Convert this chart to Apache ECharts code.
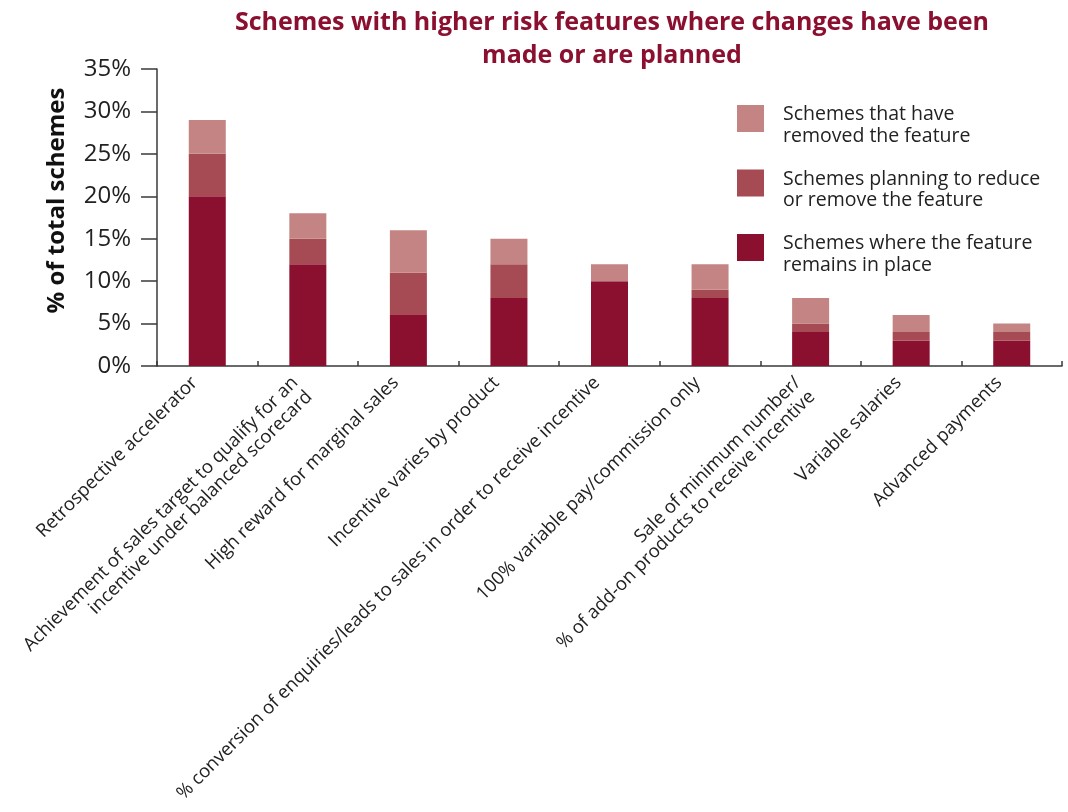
<!DOCTYPE html>
<html>
<head>
<meta charset="utf-8">
<script src="https://cdn.jsdelivr.net/npm/echarts@6/dist/echarts.min.js"></script>
<style>
  html, body { margin: 0; padding: 0; background: #ffffff; }
  #chart { width: 1068px; height: 812px; }
</style>
</head>
<body>
<div id="chart"></div>
<script>
// Risk features (x-axis categories)
const categories = [
  'Retrospective accelerator',
  'Achievement of sales target to qualify for an\nincentive under balanced scorecard',
  'High reward for marginal sales',
  'Incentive varies by product',
  '% conversion of enquiries/leads to sales in order to receive incentive',
  '100% variable pay/commission only',
  'Sale of minimum number/\n% of add-on products to receive incentive',
  'Variable salaries',
  'Advanced payments'
];

// Share of schemes (%) for each stacked segment
const remainsInPlace = [20, 12, 6, 8, 10, 8, 4, 3, 3];
const planningToReduce = [5, 3, 5, 4, 0, 1, 1, 1, 1];
const haveRemoved = [4, 3, 5, 3, 2, 3, 3, 2, 1];

const seriesNames = [
  'Schemes where the feature\nremains in place',
  'Schemes planning to reduce\nor remove the feature',
  'Schemes that have\nremoved the feature'
];

const FONT = '"Open Sans", "Noto Sans", sans-serif';
const colors = ['#8b1030', '#a64a54', '#c48483'];

// Legend swatch: a 27x27 square sitting at the top of a 27x41 box, so the
// two-line legend text centres a little below the square's middle.
const SWATCH = 'path://M0,0H27V27H0Z M0,41H0.01V41.01H0Z';

const chart = echarts.init(document.getElementById('chart'), null, { renderer: 'canvas' });

function barSeries(name, data, color) {
  return {
    name: name,
    type: 'bar',
    stack: 'total',
    barWidth: 37,
    data: data,
    itemStyle: { color: color },
    emphasis: { disabled: true }
  };
}

chart.setOption({
  animation: false,
  backgroundColor: '#ffffff',
  textStyle: { fontFamily: FONT },
  title: {
    text: 'Schemes with higher risk features where changes have been\nmade or are planned',
    left: 607,
    top: 1,
    textAlign: 'center',
    textStyle: {
      fontFamily: FONT,
      fontSize: 25,
      fontWeight: 'bold',
      color: '#8b1030',
      lineHeight: 33
    }
  },
  legend: {
    orient: 'vertical',
    left: 737,
    top: 104,
    padding: 0,
    itemWidth: 27,
    itemHeight: 41,
    itemGap: 21.5,
    icon: SWATCH,
    selectedMode: false,
    data: [seriesNames[2], seriesNames[1], seriesNames[0]],
    textStyle: {
      fontFamily: FONT,
      fontSize: 19.5,
      lineHeight: 21.5,
      color: '#222222',
      padding: [0, 0, 0, 14]
    }
  },
  grid: {
    left: 157,
    right: 6,
    top: 69,
    bottom: 446,
    containLabel: false
  },
  xAxis: {
    type: 'category',
    data: categories,
    axisLine: { lineStyle: { color: '#3a3a3a', width: 1.5 } },
    axisTick: { show: true, inside: true, length: 5, lineStyle: { color: '#3a3a3a', width: 1.5 } },
    axisLabel: {
      interval: 0,
      rotate: 45,
      fontFamily: FONT,
      fontSize: 18.5,
      lineHeight: 20,
      color: '#222222',
      verticalAlign: 'top',
      padding: [0, 28, 0, 0],
      margin: -13
    }
  },
  yAxis: {
    type: 'value',
    min: 0,
    max: 35,
    interval: 5,
    name: '% of total schemes',
    nameLocation: 'middle',
    nameGap: 88,
    nameRotate: 90,
    nameTextStyle: {
      fontFamily: FONT,
      fontSize: 24,
      fontWeight: 'bold',
      color: '#111111',
      padding: [0, 0, 0, 34]
    },
    axisLine: { show: true, lineStyle: { color: '#3a3a3a', width: 1.5 } },
    axisTick: { show: true, length: 16, lineStyle: { color: '#3a3a3a', width: 1.5 } },
    splitLine: { show: false },
    axisLabel: {
      formatter: '{value}%',
      fontFamily: FONT,
      fontSize: 24,
      color: '#222222',
      margin: 26
    }
  },
  series: [
    barSeries(seriesNames[0], remainsInPlace, colors[0]),
    barSeries(seriesNames[1], planningToReduce, colors[1]),
    barSeries(seriesNames[2], haveRemoved, colors[2])
  ]
});
</script>
</body>
</html>
